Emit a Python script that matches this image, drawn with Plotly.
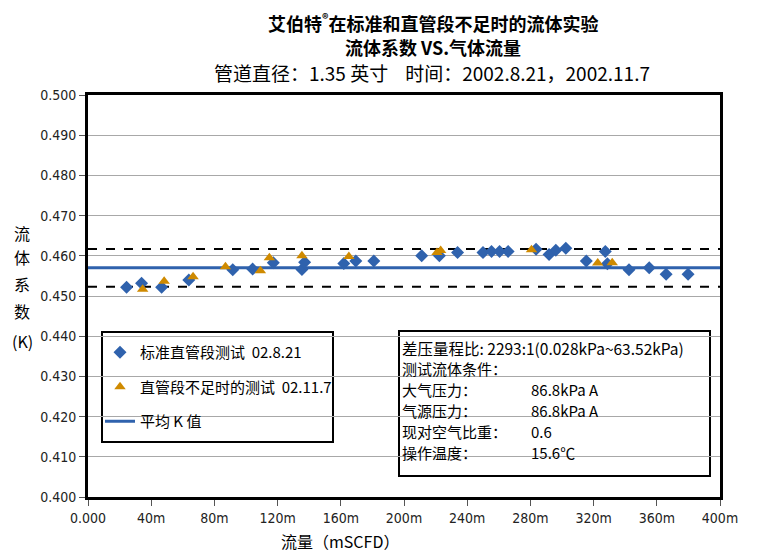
import plotly.graph_objects as go

# flow rate (mSCFD, in millions) and flow coefficient K
std_flow = [24.4, 33.9, 46.6, 63.8, 91.6, 104.2, 117.3, 135.4, 137.1, 161.9,
            169.5, 180.9, 211.2, 222.4, 233.9, 250.0, 255.4, 260.5, 265.9, 283.6,
            291.8, 296.1, 302.4, 315.4, 327.4, 328.7, 342.4, 355.2, 365.9, 379.8]
std_k = [0.4522, 0.4532, 0.4522, 0.4540, 0.4565, 0.4567, 0.4583, 0.4566, 0.4584, 0.4581,
         0.4587, 0.4587, 0.4600, 0.4600, 0.4608, 0.4608, 0.4611, 0.4611, 0.4611, 0.4616,
         0.4603, 0.4614, 0.4619, 0.4587, 0.4611, 0.4580, 0.4565, 0.4570, 0.4554, 0.4554]

short_flow = [34.6, 48.2, 66.5, 87.0, 109.1, 114.8, 135.4, 165.1, 220.9, 223.2,
              280.7, 322.6, 331.8]
short_k = [0.4517, 0.4537, 0.4548, 0.4573, 0.4563, 0.4595, 0.4600, 0.4598, 0.4608, 0.4613,
           0.4615, 0.4582, 0.4583]

mean_k = 0.4570
upper_k = 0.4617
lower_k = 0.4523
x_span = [0, 400]

x_tickvals = [0, 40, 80, 120, 160, 200, 240, 280, 320, 360, 400]
x_ticktext = ["0.000", "40m", "80m", "120m", "160m", "200m", "240m", "280m", "320m", "360m", "400m"]

info_labels = ["大气压力：", "气源压力：", "现对空气比重：", "操作温度："]
info_values = ["86.8kPa A", "86.8kPa A", "0.6", "15.6℃"]

BLUE = "#2f62ad"
ORANGE = "#cf8a00"
CJK = "Noto Sans CJK SC, Liberation Sans, sans-serif"
NARROW = "Liberation Sans Narrow, DejaVu Sans Condensed, Roboto Condensed, Liberation Sans, sans-serif"

fig = go.Figure()

for yv in (upper_k, lower_k):
    fig.add_trace(go.Scatter(x=x_span, y=[yv, yv], mode="lines",
                             line=dict(color="black", width=2, dash="dash"),
                             showlegend=False, hoverinfo="skip"))

fig.add_trace(go.Scatter(x=x_span, y=[mean_k, mean_k], mode="lines",
                         line=dict(color=BLUE, width=3),
                         name="平均 K 值", legendrank=3, legendgroup="c"))

fig.add_trace(go.Scatter(x=std_flow, y=std_k, mode="markers",
                         marker=dict(symbol="diamond", size=10, color=BLUE),
                         name="标准直管段测试  02.8.21", legendrank=1, legendgroup="a"))

fig.add_trace(go.Scatter(x=short_flow, y=short_k, mode="markers",
                         marker=dict(symbol="triangle-up", size=10, color=ORANGE),
                         name="直管段不足时的测试  02.11.7", legendrank=2, legendgroup="b"))

# target positions in picture pixels; plot area is x 88..720, y 95..497
# (the page body adds an 8px offset, so the margins below are 8px smaller)
def px_x(p):
    return (p - 88) / 632

def px_y(p):
    return (497 - p) / 402

def text_at(txt, x, y, size, anchor="center"):
    return dict(text=txt, x=px_x(x), y=px_y(y), xref="paper", yref="paper",
                showarrow=False, xanchor=anchor, yanchor="middle",
                font=dict(family=CJK, size=size, color="black"))

ann = []
ann.append(text_at("<b>艾伯特<sup>®</sup>在标准和直管段不足时的流体实验</b>", 433, 22, 18))
ann.append(text_at("<b>流体系数 VS.气体流量</b>", 433, 47, 18))
ann.append(text_at("管道直径：1.35 英寸    时间：2002.8.21，2002.11.7", 432, 72, 19))

for ch, py in zip(["流", "体", "系", "数", "(K)"], [233, 257, 284, 311, 341]):
    ann.append(text_at(ch, 22, py, 16))

ann.append(text_at("流量（mSCFD）", 340, 541, 16))

ann.append(text_at("差压量程比: 2293:1(0.028kPa~63.52kPa)", 400, 348, 15.5, "left"))
ann.append(text_at("测试流体条件：", 400, 368, 15, "left"))
for lab, val, py in zip(info_labels, info_values, [389, 410, 431, 452]):
    ann.append(text_at(lab, 400, py, 15, "left"))
    ann.append(text_at(val, 529, py, 15, "left"))

fig.update_layout(
    width=758, height=560,
    margin=dict(l=80, r=46, t=87, b=71),
    plot_bgcolor="white", paper_bgcolor="white",
    annotations=ann,
    shapes=[
        dict(type="rect", xref="paper", yref="paper",
             x0=px_x(399), x1=px_x(710), y0=px_y(476), y1=px_y(331),
             line=dict(color="black", width=2), fillcolor="white", layer="below"),
        dict(type="rect", xref="paper", yref="paper",
             x0=px_x(102), x1=px_x(333), y0=px_y(442), y1=px_y(332),
             line=dict(color="black", width=2), fillcolor="white", layer="below"),
    ],
    legend=dict(x=px_x(100), y=px_y(336), xanchor="left", yanchor="top",
                bgcolor="rgba(0,0,0,0)", borderwidth=0, itemwidth=30,
                font=dict(family=CJK, size=15, color="black"),
                tracegroupgap=12),
    showlegend=True,
)

fig.update_xaxes(range=[0, 400], tickvals=x_tickvals, ticktext=x_ticktext,
                 showgrid=False, zeroline=False, automargin=False,
                 showline=True, linecolor="black", linewidth=3, mirror=True,
                 ticks="outside", ticklen=6, tickcolor="#555",
                 tickfont=dict(family=NARROW, size=14, color="#222"))
fig.update_yaxes(range=[0.400, 0.500], dtick=0.01, tickformat=".3f",
                 showgrid=True, gridcolor="#a8a8a8", gridwidth=1, zeroline=False,
                 automargin=False,
                 showline=True, linecolor="black", linewidth=3, mirror=True,
                 ticks="outside", ticklen=6, tickcolor="#555",
                 tickfont=dict(family=NARROW, size=14, color="#222"))

fig.write_html("out.html")
